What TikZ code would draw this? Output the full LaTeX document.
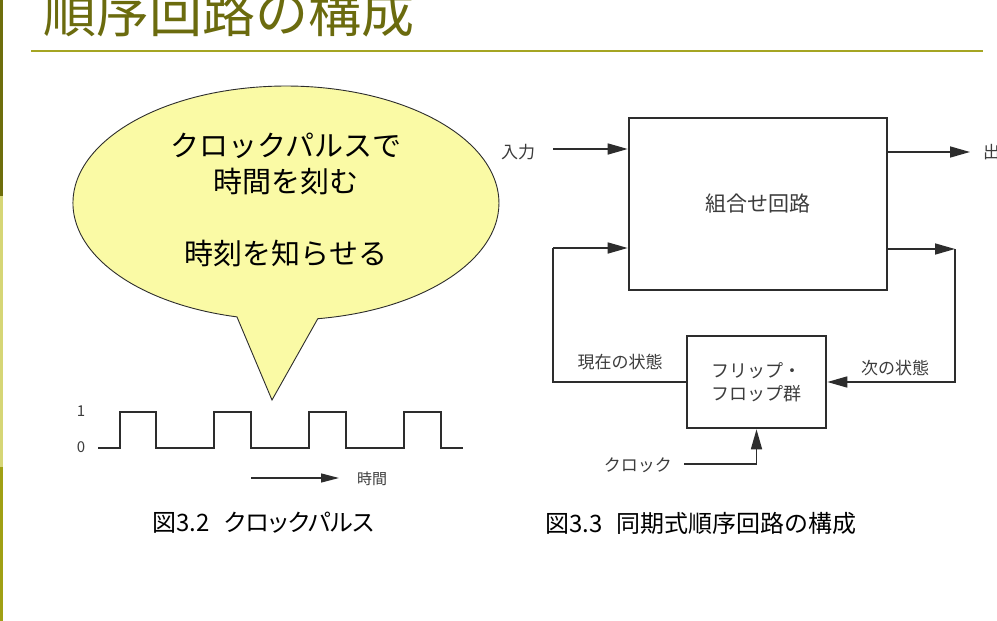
\documentclass[tikz,border=0pt]{standalone}
\usepackage{fontspec}
\setmainfont{Noto Sans CJK JP}
\newfontfamily\capfont[RawFeature=+palt]{Noto Sans CJK JP}
\usetikzlibrary{arrows.meta}
\definecolor{titleol}{RGB}{107,107,14}
\definecolor{lineol}{RGB}{165,165,35}
\definecolor{barA}{RGB}{110,110,12}
\definecolor{barB}{RGB}{214,214,118}
\definecolor{barC}{RGB}{160,160,20}
\definecolor{balloon}{RGB}{250,250,165}
\definecolor{ink}{RGB}{45,45,45}
\definecolor{txt}{RGB}{60,60,60}
\tikzset{
  wire/.style={draw=ink, line width=1.6pt},
  arr/.style={wire, -{Triangle[length=20pt,width=11pt]}},
  tarr/.style={wire, -{Triangle[length=18pt,width=9pt]}},
  blk/.style={draw=ink, line width=2.6pt, fill=white, inner sep=0pt, align=center, text=txt},
  lbl/.style={inner sep=0pt, text=txt, font=\fontsize{17}{20}\selectfont},
  captxt/.style={inner sep=0pt, text=black, font=\capfont\fontsize{24}{27}\selectfont},
}
\begin{document}
\begin{tikzpicture}[x=1pt,y=-1pt]
\useasboundingbox (0,0) rectangle (997,621);
\clip (0,0) rectangle (997,621);
\fill[white] (0,0) rectangle (997,621);
% left bar
\fill[barA] (0,0) rectangle (3,196);
\fill[barB] (0,196) rectangle (3,467);
\fill[barC] (0,467) rectangle (3,621);
% title
\node[inner sep=0pt, text=titleol, font=\fontsize{53}{60}\selectfont] (title) at (229,13) {順序回路の構成};
\draw[lineol, line width=2pt] (31,51) -- (983,51);

% balloon
\draw[draw=ink, line width=0.9pt, fill=balloon]
  (317.8,318.7) arc[start angle=81.4, end angle=-256.7, x radius=213, y radius=117]
  -- (272,400) -- cycle;
\node[inner sep=0pt, align=center, text=black, font=\fontsize{29}{36}\selectfont] (btxt) at (286,200)
  {クロックパルスで\\時間を刻む\\[36pt]時刻を知らせる};

% clock waveform
\node[lbl, font=\fontsize{15}{18}\selectfont] (one) at (81,411) {1};
\node[lbl, font=\fontsize{15}{18}\selectfont] (zero) at (81,447) {0};
\draw[wire, line width=2pt, line join=miter]
  (98,448) -- (120,448) -- (120,412) -- (156,412) -- (156,448)
  -- (214,448) -- (214,412) -- (251,412) -- (251,448)
  -- (309,448) -- (309,412) -- (346,412) -- (346,448)
  -- (404,448) -- (404,412) -- (441,412) -- (441,448) -- (463,448);
\coordinate (ta) at (251,478);
\coordinate (tb) at (339,478);
\node[lbl, font=\fontsize{15}{18}\selectfont, anchor=west] (tlbl) at (357,479) {時間};
\draw[tarr, line width=1.3pt] (ta) -- (tb);

% sequential circuit
\node[blk, minimum width=258pt, minimum height=172pt, font=\fontsize{21}{24}\selectfont] (comb) at (758,204) {組合せ回路};
\node[blk, minimum width=139pt, minimum height=92pt, font=\fontsize{18}{23}\selectfont] (ff) at (756.5,382) {フリップ・\\フロップ群};

\node[lbl] (in) at (518,152) {入力};
\coordinate (inS) at (553,149);
\draw[arr] (inS) -- (comb.west |- inS);

\coordinate (outE) at (970,152);
\draw[arr] (comb.east |- outE) -- (outE);
\node[lbl, anchor=west] (out) at (983,152) {出力};

\coordinate (c1) at (553,248);
\draw[wire] (ff.west) -| (c1);
\draw[arr] (c1) -- (comb.west |- c1);
\node[lbl] (cur) at (620,362) {現在の状態};

\coordinate (c2) at (955,249);
\draw[arr] (comb.east |- c2) -- (c2);
\draw[arr] (c2) |- (ff.east);
\node[lbl] (nxt) at (895,368) {次の状態};

\coordinate (ck) at (684,464);
\node[lbl, anchor=east] (clk) at (672,465) {クロック};
\draw[arr] (ck) -| (ff.south);

% captions
\node[captxt, anchor=west] (cap1) at (152,523) {図3.2\hspace{0.6em}クロックパルス};
\node[captxt, anchor=west] (cap2) at (545,523) {図3.3\hspace{0.6em}同期式順序回路の構成};
\end{tikzpicture}
\end{document}
